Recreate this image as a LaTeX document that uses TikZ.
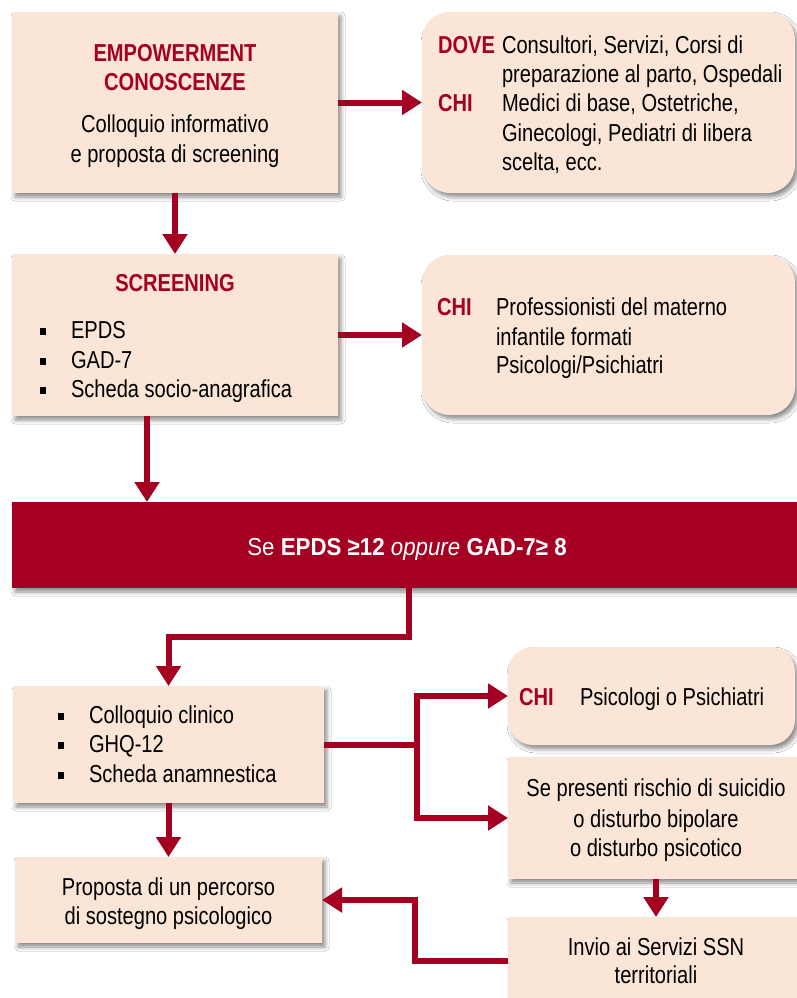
\documentclass[tikz,border=0pt]{standalone}
\usepackage{fontspec}
\setmainfont{Liberation Sans}[FakeStretch=0.82]
\newfontfamily\barfont{Liberation Sans}[FakeStretch=0.91]
\usetikzlibrary{arrows.meta,shadows.blur}
\definecolor{dred}{RGB}{165,0,33}
\definecolor{peach}{RGB}{251,229,214}
\begin{document}
\begin{tikzpicture}[x=1pt,y=-1pt,
  pbox/.style={fill=peach, anchor=north west, inner sep=0pt, outer sep=0pt,
    blur shadow={shadow xshift=3pt,shadow yshift=-4pt,shadow blur radius=4pt,shadow opacity=45}},
  rbox/.style={pbox, rounded corners=28pt},
  barbox/.style={pbox, fill=dred},
  conn/.style={draw=dred, line width=6pt, -{Triangle[width=24pt,length=20pt]}},
  txt/.style={inner sep=0pt, outer sep=0pt, font=\fontsize{24.5}{29.5}\selectfont},
  lt/.style={txt, anchor=base west},
  ct/.style={txt, anchor=base},
  hd/.style={txt, font=\fontsize{24.5}{29.5}\selectfont\bfseries, text=dred},
  bul/.style={fill=black, minimum width=6pt, minimum height=7pt, inner sep=0pt, outer sep=0pt}
]
\clip (0,0) rectangle (797,998);
\fill[white] (0,0) rectangle (797,998);

% boxes
\node[pbox, minimum width=326pt, minimum height=181pt] (b1) at (12,12) {};
\node[rbox, minimum width=373pt, minimum height=181pt] (b2) at (422,12) {};
\node[pbox, minimum width=326pt, minimum height=162pt] (b3) at (12,254) {};
\node[rbox, minimum width=373pt, minimum height=160pt] (b4) at (422,255) {};
\node[barbox, minimum width=793pt, minimum height=86pt] (bar) at (12,502) {};
\node[pbox, minimum width=311pt, minimum height=117pt] (b5) at (13,686) {};
\node[rbox, rounded corners=25pt, minimum width=287pt, minimum height=98pt] (b6) at (508,647) {};
\node[pbox, minimum width=307pt, minimum height=86pt] (b7) at (15,857) {};
\node[pbox, minimum width=297pt, minimum height=122pt] (b8) at (508,757) {};
\node[pbox, minimum width=297pt, minimum height=88pt] (b9) at (508,917) {};

% box 1 texts
\node[hd, anchor=base] (t1a) at (175,61.5) {EMPOWERMENT};
\node[hd, anchor=base] (t1b) at (175,90.5) {CONOSCENZE};
\node[ct] (t1c) at (175,132) {Colloquio informativo};
\node[ct] (t1d) at (175,162) {e proposta di screening};

% box 2 texts
\node[hd, anchor=base west] (t2h1) at (438,53) {DOVE};
\node[hd, anchor=base west] (t2h2) at (438,111.5) {CHI};
\node[lt] (t2a) at (502,53) {Consultori, Servizi, Corsi di};
\node[lt] (t2b) at (502,82) {preparazione al parto, Ospedali};
\node[lt] (t2c) at (502,111.5) {Medici di base, Ostetriche,};
\node[lt] (t2d) at (502,141) {Ginecologi, Pediatri di libera};
\node[lt] (t2e) at (502,170) {scelta, ecc.};

% box 3 texts
\node[hd, anchor=base] (t3h) at (175,291) {SCREENING};
\node[bul] (u3a) at (43,331) {};
\node[bul] (u3b) at (43,361) {};
\node[bul] (u3c) at (43,390) {};
\node[lt] (t3a) at (71,338.5) {EPDS};
\node[lt] (t3b) at (71,368) {GAD-7};
\node[lt] (t3c) at (71,397.5) {Scheda socio-anagrafica};

% box 4 texts
\node[hd, anchor=base west] (t4h) at (437,315) {CHI};
\node[lt] (t4a) at (496,315) {Professionisti del materno};
\node[lt] (t4b) at (496,345) {infantile formati};
\node[lt] (t4c) at (496,373.5) {Psicologi/Psichiatri};

% bar text
\node[ct, text=white, font=\fontsize{24.5}{29.5}\selectfont\barfont] (tbar) at (407,555.5) {Se \textbf{EPDS ≥12} \textit{oppure} \textbf{GAD-7≥ 8}};

% box 5 texts
\node[bul] (u5a) at (61,716) {};
\node[bul] (u5b) at (61,745) {};
\node[bul] (u5c) at (61,775) {};
\node[lt] (t5a) at (89,723) {Colloquio clinico};
\node[lt] (t5b) at (89,752.5) {GHQ-12};
\node[lt] (t5c) at (89,782.5) {Scheda anamnestica};

% box 6 texts
\node[hd, anchor=base west] (t6h) at (519,705.5) {CHI};
\node[lt] (t6a) at (580,705.5) {Psicologi o Psichiatri};

% box 7 texts
\node[ct] (t7a) at (168.5,895) {Proposta di un percorso};
\node[ct] (t7b) at (168.5,924) {di sostegno psicologico};

% box 8 texts
\node[ct] (t8a) at (656,796.5) {Se presenti rischio di suicidio};
\node[ct] (t8b) at (656,827) {o disturbo bipolare};
\node[ct] (t8c) at (656,856.5) {o disturbo psicotico};

% box 9 texts
\node[ct] (t9a) at (656,955) {Invio ai Servizi SSN};
\node[ct] (t9b) at (656,983.5) {territoriali};

% junctions
\coordinate (j1) at (417,744.5);
\coordinate (j2) at (415,930);
\coordinate (j3) at (409,637);
\coordinate (j4) at (147,460);

% connectors
\draw[conn] (b1.east) -- (b2.west);
\draw[conn] (b1.south) -- (b3.north);
\draw[conn] (b3.east) -- (b4.west);
\draw[conn] (b3.south -| j4) -- (bar.north -| j4);
\draw[conn] (bar.south -| j3) -- (j3) -| (b5.north);
\draw[conn] (b5.east) -- (j1) |- (b6.west);
\draw[conn] (j1) |- (b8.west);
\draw[conn] (b5.south) -- (b7.north);
\draw[conn] (b8.south -| t8c.south) -- (b9.north -| t8c.south);
\draw[conn] (b9.west) -| (j2) |- (b7.east);
\end{tikzpicture}
\end{document}
